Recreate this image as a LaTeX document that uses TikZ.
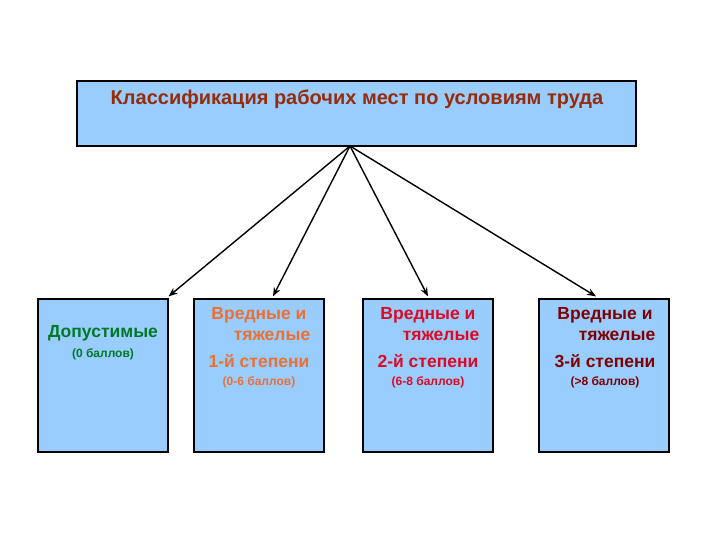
\documentclass[tikz,border=0pt]{standalone}
\usepackage{fontspec}
\setmainfont{Liberation Sans}
\usetikzlibrary{arrows.meta,positioning}
\definecolor{boxblue}{RGB}{153,204,255}
\definecolor{titlebrown}{RGB}{150,45,10}
\definecolor{okgreen}{RGB}{0,120,40}
\definecolor{harmorange}{RGB}{238,112,48}
\definecolor{harmred}{RGB}{220,10,35}
\definecolor{harmmaroon}{RGB}{128,0,0}
\tikzset{
  box/.style={draw=black,line width=1.2pt,fill=boxblue,inner sep=0pt},
  big/.style={font=\fontsize{17.5}{20}\selectfont\bfseries},
  small/.style={font=\fontsize{12}{14}\selectfont\bfseries},
  link/.style={-{Stealth[length=9pt,width=7pt]},line width=1.4pt}
}
\begin{document}
\begin{tikzpicture}[x=1pt,y=-1pt]
  \useasboundingbox[fill=white] (0,0) rectangle (720,540);
  \node[box,minimum width=559pt,minimum height=65pt] (head) at (356.5,113.5) {};
  \node[titlebrown,font=\fontsize{20}{24}\selectfont\bfseries] (title) at (357,99) {Классификация рабочих мест по условиям труда};
  \node[box,minimum width=130pt,minimum height=153pt] (b1) at (103,375.5) {};
  \node[box,minimum width=130pt,minimum height=153pt] (b2) at (259,375.5) {};
  \node[box,minimum width=130pt,minimum height=153pt] (b3) at (428,375.5) {};
  \node[box,minimum width=130pt,minimum height=153pt] (b4) at (604,375.5) {};
  % texts
  \node[big,okgreen] (t1) at (103,333) {Допустимые};
  \node[small,okgreen] (s1) at (103,354) {(0 баллов)};
  \node[big,harmorange] (t2a) at (259,315) {Вредные и};
  \node[big,harmorange] (t2b) at (272,336) {тяжелые};
  \node[big,harmorange] (t2c) at (259,361) {1-й степени};
  \node[small,harmorange] (s2) at (259,382) {(0-6 баллов)};
  \node[big,harmred] (t3a) at (428,315) {Вредные и};
  \node[big,harmred] (t3b) at (441,336) {тяжелые};
  \node[big,harmred] (t3c) at (428,361) {2-й степени};
  \node[small,harmred] (s3) at (428,382) {(6-8 баллов)};
  \node[big,harmmaroon] (t4a) at (605,315) {Вредные и};
  \node[big,harmmaroon] (t4b) at (617,336) {тяжелые};
  \node[big,harmmaroon] (t4c) at (605,361) {3-й степени};
  \node[small,harmmaroon] (s4) at (605,382) {(>8 баллов)};
  % arrows
  \coordinate (hub) at (350,146);
  \draw[link] (hub) -- ([yshift=2pt]b1.north east);
  \draw[link] (hub) -- ([xshift=14pt,yshift=2pt]b2.north);
  \draw[link] (hub) -- ([yshift=2pt]b3.north);
  \draw[link] (hub) -- ([xshift=-8pt,yshift=2pt]b4.north);
\end{tikzpicture}
\end{document}
